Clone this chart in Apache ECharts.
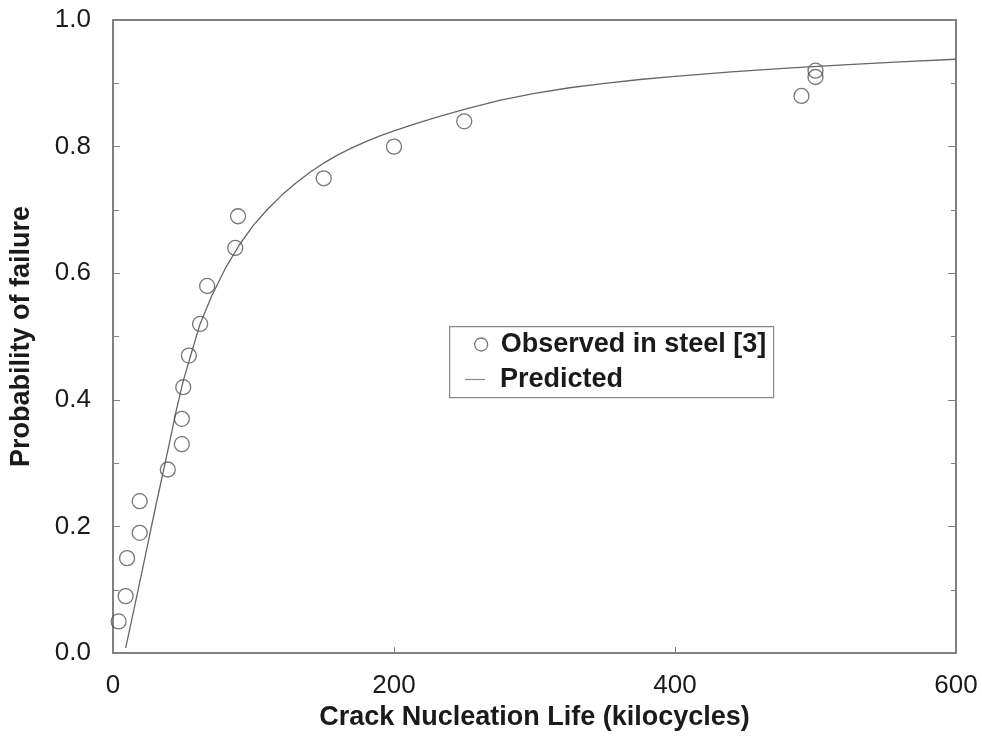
<!DOCTYPE html>
<html>
<head>
<meta charset="utf-8">
<script src="https://cdn.jsdelivr.net/npm/echarts@6/dist/echarts.min.js"></script>
<style>
html,body{margin:0;padding:0;background:#fff;}
#chart{width:982px;height:736px;}
</style>
</head>
<body>
<div id="chart"></div>
<script>
// Observed data (kilocycles, probability of failure)
var observedX = [4, 9, 10, 19, 19, 39, 49, 49, 50, 54, 62, 67, 87, 89, 150, 200, 250, 490, 500, 500];
var observedP = [0.05, 0.09, 0.15, 0.19, 0.24, 0.29, 0.33, 0.37, 0.42, 0.47, 0.52, 0.58, 0.64, 0.69, 0.75, 0.80, 0.84, 0.88, 0.91, 0.92];

// Predicted curve
var predictedX = [9, 15, 20, 25, 30, 36, 40, 45, 50, 55, 62, 70, 80, 90, 100, 110, 120, 130, 140, 150, 160, 170, 180, 190, 200, 215, 230, 250, 275, 300, 325, 350, 375, 400, 440, 480, 520, 560, 600];
var predictedP = [0.008, 0.07, 0.122, 0.175, 0.228, 0.289, 0.33, 0.383, 0.43, 0.468, 0.52, 0.563, 0.608, 0.645, 0.676, 0.701, 0.723, 0.742, 0.759, 0.774, 0.787, 0.798, 0.808, 0.817, 0.825, 0.836, 0.846, 0.859, 0.873, 0.884, 0.893, 0.900, 0.906, 0.911, 0.918, 0.924, 0.929, 0.934, 0.938];

var xTicks = [0, 200, 400, 600];
var yTicks = [0.0, 0.2, 0.4, 0.6, 0.8, 1.0];

var seriesNames = ['Observed in steel [3]', 'Predicted'];
var xTitle = 'Crack Nucleation Life (kilocycles)';
var yTitle = 'Probability of failure';

function zip(a, b) { return a.map(function (v, i) { return [v, b[i]]; }); }

var axisColor = '#808080';
var textColor = '#1a1a1a';
var font = 'Liberation Sans, Arial, Helvetica, sans-serif';

var chart = echarts.init(document.getElementById('chart'), null, {renderer: 'canvas'});
chart.setOption({
  animation: false,
  backgroundColor: '#fff',
  grid: {left: 112, top: 20, right: 26, bottom: 78, containLabel: false},
  graphic: [{
    type: 'rect', left: 449, top: 326, z: 50,
    shape: {width: 324, height: 71},
    style: {fill: '#fff', stroke: '#888', lineWidth: 1.2}
  }],
  legend: [{
    data: [{name: seriesNames[0], icon: 'circle', itemStyle: {color: 'rgba(0,0,0,0)', borderColor: '#555', borderWidth: 1.3}}],
    left: 474, top: 331, padding: 0, itemWidth: 13, itemHeight: 13, z: 60,
    selectedMode: false,
    textStyle: {fontFamily: font, fontSize: 27, fontWeight: 'bold', color: textColor, padding: [0, 0, 0, 8]}
  }, {
    data: [{name: seriesNames[1], icon: 'rect', itemStyle: {color: '#888'}}],
    left: 465, top: 366, padding: 0, itemWidth: 20, itemHeight: 1.2, z: 60,
    selectedMode: false,
    textStyle: {fontFamily: font, fontSize: 27, fontWeight: 'bold', color: textColor, padding: [0, 0, 0, 10]}
  }],
  xAxis: [{
    type: 'value', position: 'bottom', min: 0, max: 600, interval: 200,
    axisLine: {show: true, onZero: false, lineStyle: {color: axisColor, width: 2}},
    axisTick: {show: true, inside: true, length: 6, lineStyle: {color: axisColor, width: 1}},
    splitLine: {show: false},
    axisLabel: {fontFamily: font, fontSize: 26, color: textColor, margin: 20,
      formatter: function (v) { return xTicks.indexOf(v) >= 0 ? String(v) : ''; }},
    name: xTitle, nameLocation: 'middle', nameGap: 50,
    nameTextStyle: {fontFamily: font, fontSize: 27, fontWeight: 'bold', color: textColor}
  }, {
    type: 'value', position: 'top', min: 0, max: 600, interval: 200,
    axisLine: {show: true, onZero: false, lineStyle: {color: axisColor, width: 2}},
    axisTick: {show: false}, axisLabel: {show: false}, splitLine: {show: false}
  }],
  yAxis: [{
    type: 'value', position: 'left', min: 0, max: 1, interval: 0.2,
    axisLine: {show: true, onZero: false, lineStyle: {color: axisColor, width: 2}},
    axisTick: {show: true, inside: true, length: 7, lineStyle: {color: axisColor, width: 1}},
    minorTick: {show: true, splitNumber: 2, length: 6, lineStyle: {color: axisColor, width: 1}},
    splitLine: {show: false},
    axisLabel: {fontFamily: font, fontSize: 26, color: textColor, margin: 22,
      formatter: function (v) { return v.toFixed(1); }},
    name: yTitle, nameLocation: 'middle', nameGap: 78, nameRotate: 90,
    nameTextStyle: {fontFamily: font, fontSize: 27, fontWeight: 'bold', color: textColor}
  }, {
    type: 'value', position: 'right', min: 0, max: 1, interval: 0.2,
    axisLine: {show: true, onZero: false, lineStyle: {color: axisColor, width: 2}},
    axisTick: {show: true, inside: true, length: 8, lineStyle: {color: axisColor, width: 1}},
    minorTick: {show: true, splitNumber: 2, length: 5, lineStyle: {color: axisColor, width: 1}},
    axisLabel: {show: false}, splitLine: {show: false}
  }],
  series: [{
    name: seriesNames[0], type: 'scatter', xAxisIndex: 0, yAxisIndex: 0,
    data: zip(observedX, observedP),
    symbol: 'circle', symbolSize: 15, z: 3,
    itemStyle: {color: 'rgba(0,0,0,0)', borderColor: '#555', borderWidth: 1.3}
  }, {
    name: seriesNames[1], type: 'line', xAxisIndex: 0, yAxisIndex: 0,
    data: zip(predictedX, predictedP),
    smooth: false, showSymbol: false, z: 2,
    lineStyle: {color: '#666', width: 1.3}
  }]
});
</script>
</body>
</html>
